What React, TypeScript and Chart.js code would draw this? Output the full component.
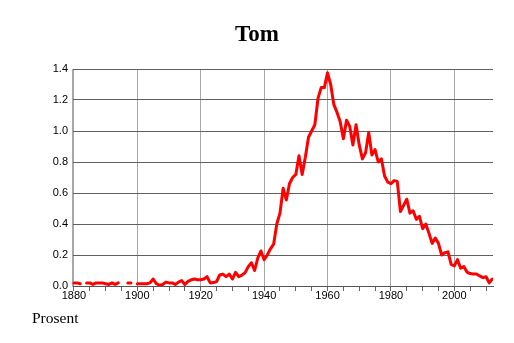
import React, { useEffect, useRef } from 'react';
import { Chart, registerables } from 'chart.js';

Chart.register(...registerables);

const chartTitle = 'Tom';
const axisCaption = 'Prosent';

const firstYear = 1880;

// Percent of births, one value per year (null = no data)
const v1880s = [0.02, 0.02, 0.015, null, 0.02, 0.02, 0.01, 0.02, 0.02, 0.02];
const v1890s = [0.015, 0.01, 0.02, 0.01, 0.02, null, null, 0.02, 0.02, null];
const v1900s = [0.015, 0.015, 0.015, 0.015, 0.02, 0.045, 0.015, 0.005, 0.01, 0.025];
const v1910s = [0.02, 0.02, 0.01, 0.025, 0.035, 0.01, 0.03, 0.04, 0.045, 0.04];
const v1920s = [0.04, 0.045, 0.06, 0.02, 0.022, 0.028, 0.071, 0.077, 0.06, 0.077];
const v1930s = [0.045, 0.088, 0.06, 0.07, 0.086, 0.125, 0.15, 0.1, 0.18, 0.226];
const v1940s = [0.17, 0.2, 0.24, 0.27, 0.4, 0.47, 0.63, 0.555, 0.66, 0.7];
const v1950s = [0.72, 0.84, 0.72, 0.83, 0.96, 1.0, 1.04, 1.21, 1.28, 1.28];
const v1960s = [1.375, 1.3, 1.17, 1.12, 1.06, 0.95, 1.07, 1.03, 0.91, 1.04];
const v1970s = [0.91, 0.82, 0.86, 0.99, 0.845, 0.88, 0.8, 0.82, 0.71, 0.67];
const v1980s = [0.66, 0.68, 0.675, 0.48, 0.52, 0.56, 0.47, 0.485, 0.43, 0.45];
const v1990s = [0.37, 0.4, 0.34, 0.275, 0.31, 0.275, 0.2, 0.215, 0.22, 0.14];
const v2000s = [0.13, 0.17, 0.115, 0.125, 0.09, 0.08, 0.077, 0.077, 0.065, 0.054];
const v2010s = [0.06, 0.02, 0.045];

const values: (number | null)[] = [
  ...v1880s, ...v1890s, ...v1900s, ...v1910s, ...v1920s, ...v1930s, ...v1940s,
  ...v1950s, ...v1960s, ...v1970s, ...v1980s, ...v1990s, ...v2000s, ...v2010s,
];
const years = values.map((_, i) => firstYear + i);

const xMin = 1879.4;
const xMax = 2012.2;
const xMinorStep = 5;
const xLabelStep = 20;
const yMin = 0;
const yMax = 1.4;
const yStep = 0.2;

export default function App() {
  const canvasRef = useRef<HTMLCanvasElement | null>(null);

  useEffect(() => {
    const canvas = canvasRef.current;
    if (!canvas) return;
    const chart = new Chart(canvas, {
      type: 'line',
      data: {
        datasets: [
          {
            data: years.map((y, i) => ({ x: y, y: values[i] })),
            borderColor: '#ff0000',
            borderWidth: 3,
            pointRadius: 0,
            borderJoinStyle: 'round',
            borderCapStyle: 'round',
            spanGaps: false,
            tension: 0,
          },
        ],
      },
      options: {
        animation: false,
        responsive: false,
        maintainAspectRatio: false,
        layout: { padding: { top: 69, right: 21, bottom: 37, left: 0 } },
        plugins: {
          legend: { display: false },
          tooltip: { enabled: false },
          title: { display: false },
        },
        scales: {
          x: {
            type: 'linear',
            min: xMin,
            max: xMax,
            afterFit: (s: any) => {
              s.height = 20;
            },
            ticks: {
              stepSize: xMinorStep,
              includeBounds: false,
              autoSkip: false,
              maxRotation: 0,
              padding: -2,
              color: '#000',
              font: { family: 'Liberation Sans', size: 11 },
              callback: (v: any) => (Number(v) % xLabelStep === 0 ? String(v) : ''),
            },
            grid: {
              color: (ctx: any) =>
                ctx.tick && ctx.tick.value % xLabelStep === 0 ? '#a8a8a8' : 'rgba(0,0,0,0)',
              tickColor: '#666',
              tickLength: 5,
              lineWidth: 1,
            },
            border: { display: true, color: '#555', width: 1 },
          },
          y: {
            type: 'linear',
            min: yMin,
            max: yMax,
            afterFit: (s: any) => {
              s.width = 72;
            },
            ticks: {
              stepSize: yStep,
              padding: 4,
              color: '#000',
              font: { family: 'Liberation Sans', size: 11 },
              callback: (v: any) => Number(v).toFixed(1),
            },
            grid: {
              color: '#606060',
              drawTicks: false,
              lineWidth: 1,
            },
            border: { display: true, color: '#a8a8a8', width: 1 },
          },
        },
      },
    });
    return () => chart.destroy();
  }, []);

  return (
    <div style={{ position: 'absolute', left: 0, top: 0, width: 514, height: 343, background: '#fff' }}>
      <canvas
        ref={canvasRef}
        width={514}
        height={343}
        style={{ position: 'absolute', left: 0, top: 0, display: 'block' }}
      />
      <div
        style={{
          position: 'absolute',
          left: 0,
          top: 22,
          width: 514,
          textAlign: 'center',
          fontFamily: '"Liberation Serif", serif',
          fontWeight: 'bold',
          fontSize: 23,
          lineHeight: '23px',
          color: '#000',
        }}
      >
        {chartTitle}
      </div>
      <div
        style={{
          position: 'absolute',
          left: 32,
          top: 309.5,
          fontFamily: '"Liberation Serif", serif',
          fontSize: 15.5,
          lineHeight: '15.5px',
          color: '#000',
        }}
      >
        {axisCaption}
      </div>
    </div>
  );
}
